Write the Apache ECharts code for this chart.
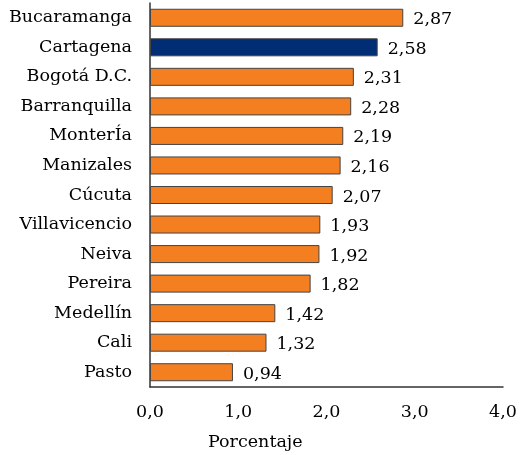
<!DOCTYPE html>
<html><head><meta charset="utf-8">
<script src="https://cdn.jsdelivr.net/npm/echarts@6/dist/echarts.min.js"></script>
<style>html,body{margin:0;padding:0;background:#fff}#c{width:521px;height:455px}</style>
</head><body><div id="c"></div>
<script>
const categories = ["Bucaramanga","Cartagena","Bogotá D.C.","Barranquilla","MonterÍa","Manizales","Cúcuta","Villavicencio","Neiva","Pereira","Medellín","Cali","Pasto"];
const values = [2.87,2.58,2.31,2.28,2.19,2.16,2.07,1.93,1.92,1.82,1.42,1.32,0.94];
const highlight = "Cartagena";
const axisName = "Porcentaje";
const FONT = "DejaVu Serif";
const chart = echarts.init(document.getElementById('c'));
chart.setOption({
  animation:false,
  grid:{left:150,right:18,top:3,bottom:68,containLabel:false},
  graphic:[{type:'text',left:208,top:433,style:{text:axisName,fontFamily:FONT,fontSize:17.5,fill:'#000'}}],
  xAxis:{type:'value',min:0,max:4,interval:1,
    axisLine:{show:true,lineStyle:{color:'#333',width:1.5}},
    axisTick:{show:false},splitLine:{show:false},
    axisLabel:{margin:16,fontFamily:FONT,fontSize:17.5,color:'#000',formatter:v=>v.toFixed(1).replace('.',',')}},
  yAxis:{type:'category',data:categories,inverse:true,
    axisLine:{show:true,lineStyle:{color:'#333',width:1.5}},
    axisTick:{show:false},
    axisLabel:{margin:18,fontFamily:FONT,fontSize:17.5,color:'#000'}},
  series:[{type:'bar',barCategoryGap:'39%',
    data:values.map((v,i)=>({value:v,itemStyle:{color:categories[i]===highlight?'#002D74':'#F47F20'}})),
    itemStyle:{borderColor:'#444',borderWidth:1},
    label:{show:true,position:'right',distance:10,offset:[0,2],fontFamily:FONT,fontSize:17.5,color:'#000',
      formatter:p=>p.value.toFixed(2).replace('.',',')}}]
});
</script></body></html>
